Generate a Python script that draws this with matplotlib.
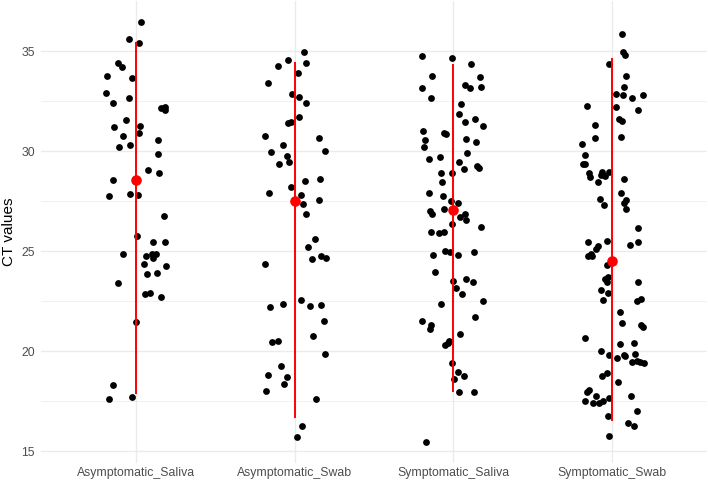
import matplotlib.pyplot as plt
import numpy as np

plt.rcParams["font.family"] = ["Liberation Sans", "DejaVu Sans"]

groups = ["Asymptomatic_Saliva", "Asymptomatic_Swab", "Symptomatic_Saliva", "Symptomatic_Swab"]

# CT values, with the horizontal jitter of each dot
asym_saliva_ct = [36.45, 35.6, 35.42, 34.42, 34.22, 33.77, 33.65, 32.9, 32.67, 32.38,
                  32.17, 32.22, 32.05, 31.55, 31.18, 31.27, 30.77, 30.9, 30.22, 30.28,
                  30.55, 29.85, 29.03, 28.88, 28.53, 27.77, 27.87, 27.8, 26.77, 25.73,
                  25.43, 25.47, 24.83, 24.77, 24.83, 24.85, 24.65, 24.33, 24.27, 23.83,
                  23.92, 23.42, 22.85, 22.92, 22.7, 21.45, 18.3, 17.58, 17.7]
asym_saliva_jit = [0.032, -0.044, 0.017, -0.116, -0.092, -0.185, -0.023, -0.189, -0.048, -0.147,
                   0.158, 0.181, 0.185, -0.063, -0.141, 0.027, -0.080, 0.019, -0.111, -0.036,
                   0.139, 0.135, 0.074, 0.143, -0.149, -0.174, -0.038, 0.011, 0.174, 0.004,
                   0.107, 0.183, -0.086, 0.065, 0.099, 0.128, 0.109, 0.050, 0.187, 0.067,
                   0.132, -0.113, 0.059, 0.090, 0.158, -0.004, -0.147, -0.174, -0.025]

asym_swab_ct = [34.97, 34.55, 34.38, 34.25, 33.88, 33.42, 32.83, 32.72, 32.42, 31.72,
                31.42, 31.47, 30.75, 30.67, 30.3, 29.97, 30.02, 29.77, 29.33, 29.47,
                28.48, 28.58, 28.2, 27.92, 27.8, 27.33, 27.57, 26.85, 25.58, 25.18,
                24.58, 24.73, 24.63, 24.35, 22.55, 22.22, 22.33, 22.27, 22.28, 21.5,
                20.77, 20.45, 20.52, 19.87, 19.25, 18.8, 18.72, 18.35, 17.98, 17.58,
                16.25, 15.72]
asym_swab_jit = [0.060, -0.043, 0.073, -0.104, 0.022, -0.167, -0.014, 0.026, 0.073, 0.030,
                 -0.043, -0.026, -0.190, 0.150, -0.077, -0.152, 0.194, -0.049, -0.098, -0.035,
                 0.068, 0.159, -0.022, -0.163, 0.039, 0.054, 0.154, 0.073, 0.131, 0.085,
                 0.108, 0.165, 0.197, -0.190, 0.039, -0.159, -0.075, 0.094, 0.163, 0.184,
                 0.115, -0.144, -0.106, 0.190, -0.085, -0.167, -0.051, -0.068, -0.184, 0.134,
                 0.043, 0.012]

sym_saliva_ct = [34.73, 34.63, 34.33, 33.77, 33.72, 33.3, 33.15, 33.2, 33.13, 32.65,
                 32.33, 31.85, 31.62, 31.45, 31.27, 31.0, 30.88, 30.85, 30.55, 30.62,
                 30.47, 30.2, 29.9, 29.6, 29.7, 29.47, 29.1, 29.23, 29.13, 28.9,
                 28.92, 28.47, 27.92, 27.77, 27.52, 27.4, 27.12, 27.0, 26.83, 26.68,
                 26.85, 26.55, 26.35, 26.22, 25.97, 25.88, 25.93, 25.0, 24.93, 24.78,
                 24.93, 24.8, 23.93, 23.52, 23.58, 23.47, 23.17, 22.85, 22.35, 22.5,
                 21.52, 21.32, 21.1, 21.68, 20.85, 20.52, 20.38, 20.28, 19.42, 18.97,
                 18.75, 18.58, 17.93, 17.95, 15.45]
sym_saliva_jit = [-0.198, -0.008, 0.111, -0.135, 0.168, 0.071, 0.105, 0.174, -0.200, -0.143,
                  0.046, 0.036, 0.137, 0.074, 0.185, -0.191, -0.059, -0.044, -0.177, 0.078,
                  0.143, -0.183, 0.088, -0.156, -0.082, 0.038, 0.065, 0.151, 0.160, -0.076,
                  -0.006, -0.074, -0.151, -0.063, -0.017, 0.029, -0.059, -0.149, -0.132, 0.042,
                  0.074, 0.082, -0.011, 0.177, -0.139, -0.088, -0.057, -0.053, -0.019, 0.029,
                  0.130, -0.130, -0.113, -0.002, 0.080, 0.122, 0.019, 0.057, -0.080, 0.187,
                  -0.200, -0.141, -0.145, 0.137, 0.044, -0.027, -0.032, -0.050, -0.011, 0.032,
                  0.067, 0.006, 0.036, 0.132, -0.174]

sym_swab_ct = [35.83, 34.95, 34.82, 34.35, 33.77, 33.22, 32.83, 32.8, 32.82, 32.63,
               32.23, 32.22, 32.07, 31.62, 31.52, 31.3, 30.67, 30.68, 30.37, 29.82,
               29.33, 29.37, 28.92, 28.72, 28.95, 28.78, 28.73, 28.93, 28.47, 28.6,
               27.9, 27.58, 27.28, 27.42, 27.55, 27.1, 26.13,
               25.43, 25.52, 25.47, 25.3, 25.23, 25.1, 24.73, 24.83, 24.77,
               24.32, 23.72, 23.58, 23.43, 23.47, 23.07, 22.88, 22.53, 22.48, 22.58,
               21.97, 21.4, 21.32, 21.2, 20.63, 20.35, 20.42, 20.0, 19.8, 19.67,
               19.82, 19.75, 19.85, 19.43, 19.5, 19.47, 19.42, 18.75, 18.9, 18.43,
               18.05, 17.93, 17.77, 17.67, 17.73, 17.48, 17.38, 17.38, 17.48, 17.0,
               16.77, 16.42, 16.23, 15.75]
sym_swab_jit = [0.061, 0.071, 0.084, -0.019, 0.090, 0.076, 0.029, 0.071, 0.198, 0.126,
                -0.156, 0.029, 0.164, 0.044, 0.067, -0.107, -0.107, 0.059, -0.189, -0.168,
                -0.183, -0.168, -0.143, -0.139, -0.063, -0.071, -0.046, -0.017, -0.090, 0.074,
                0.055, -0.076, -0.048, 0.076, 0.090, 0.092, 0.162,
                -0.151, -0.029, 0.162, 0.116, -0.090, -0.097, -0.153, -0.130, -0.124,
                -0.029, -0.025, -0.044, -0.029, 0.168, -0.069, -0.027, -0.055, 0.160, 0.185,
                0.050, 0.065, 0.181, 0.195, -0.170, 0.053, 0.141, -0.071, -0.021, 0.034,
                0.074, 0.084, 0.143, 0.130, 0.158, 0.179, 0.200, -0.063, -0.029, 0.040,
                -0.145, -0.155, -0.099, -0.019, 0.122, -0.172, -0.122, -0.078, -0.057, 0.156,
                -0.027, 0.099, 0.141, -0.017]

# red summary: centre dot and vertical range line
centre_ct = [28.55, 27.52, 27.05, 24.52]
low_ct = [17.85, 16.67, 17.97, 16.5]
high_ct = [35.47, 34.47, 34.35, 34.63]

all_ct = [asym_saliva_ct, asym_swab_ct, sym_saliva_ct, sym_swab_ct]
all_jit = [asym_saliva_jit, asym_swab_jit, sym_saliva_jit, sym_swab_jit]

fig = plt.figure(figsize=(7.08, 4.83), dpi=100)
ax = fig.add_axes([41 / 708, 20 / 483, 666 / 708, 462 / 483])

pos = np.arange(1, len(groups) + 1)
for p, ct, jit in zip(pos, all_ct, all_jit):
    ax.scatter(p + np.array(jit), ct, s=24, color="black", linewidths=0, zorder=3)

ax.vlines(pos, low_ct, high_ct, color="#FF0000", linewidth=1.4, zorder=4)
ax.scatter(pos, centre_ct, s=58, color="#FF0000", linewidths=0, zorder=5)

ax.set_xlim(0.4, 4.6)
ax.set_ylim(14.4, 37.5)
ax.set_xticks(pos)
ax.set_xticklabels(groups)
ax.set_yticks([15, 20, 25, 30, 35])
ax.set_yticks([17.5, 22.5, 27.5, 32.5], minor=True)

ax.grid(True, which="major", color="#EBEBEB", linewidth=1.0, zorder=0)
ax.grid(True, which="minor", axis="y", color="#EBEBEB", linewidth=0.5, zorder=0)
ax.set_axisbelow(True)
for s in ax.spines.values():
    s.set_visible(False)
ax.tick_params(which="both", length=0, labelsize=8.8, labelcolor="#4D4D4D")
ax.tick_params(axis="y", pad=4.5)
ax.tick_params(axis="x", pad=3)

fig.text(9 / 708, 1 - 232 / 483, "CT values", rotation=90, ha="center", va="center",
         fontsize=11, color="black")

fig.savefig("out.png", dpi=100)
